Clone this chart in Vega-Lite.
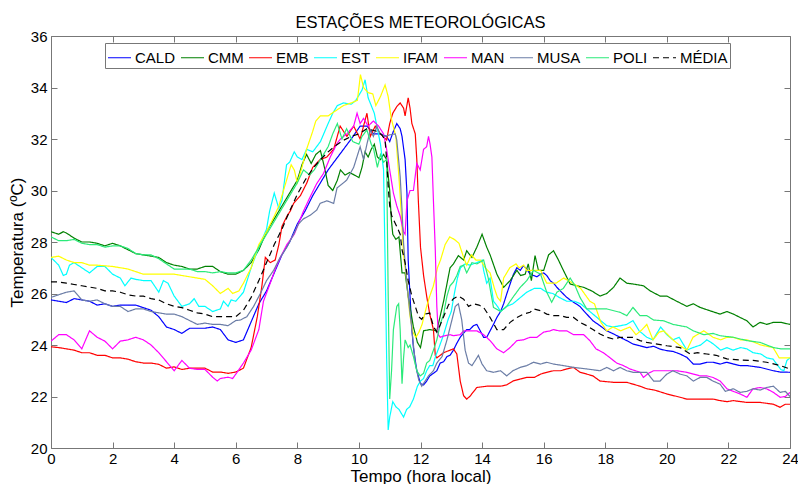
{
"$schema":"https://vega.github.io/schema/vega-lite/v6.json",
"autosize":{"type":"none"},
"padding":{"left":51,"top":36,"right":8,"bottom":36},
"width":739,"height":412,
"background":"white",
"config":{"view":{"stroke":null},"font":"Liberation Sans"},
"title":{"text":"ESTAÇÕES METEOROLÓGICAS","font":"Liberation Sans","fontSize":16.5,"fontWeight":"normal","color":"black","offset":-2,"anchor":"middle"},
"data":{"values":[
{"s":"CALD","t":0,"v":25.75},{"s":"CALD","t":0.25,"v":25.7},{"s":"CALD","t":0.5,"v":25.65},{"s":"CALD","t":0.75,"v":25.8},{"s":"CALD","t":1,"v":25.75},{"s":"CALD","t":1.25,"v":25.7},{"s":"CALD","t":1.5,"v":25.55},{"s":"CALD","t":1.75,"v":25.6},{"s":"CALD","t":2,"v":25.5},{"s":"CALD","t":2.25,"v":25.55},{"s":"CALD","t":2.5,"v":25.55},{"s":"CALD","t":2.75,"v":25.55},{"s":"CALD","t":3,"v":25.45},{"s":"CALD","t":3.25,"v":25.35},{"s":"CALD","t":3.5,"v":25.1},{"s":"CALD","t":3.75,"v":24.7},{"s":"CALD","t":4,"v":24.6},{"s":"CALD","t":4.25,"v":24.45},{"s":"CALD","t":4.5,"v":24.65},{"s":"CALD","t":4.75,"v":24.65},{"s":"CALD","t":5,"v":24.65},{"s":"CALD","t":5.25,"v":24.7},{"s":"CALD","t":5.5,"v":24.6},{"s":"CALD","t":5.75,"v":24.2},{"s":"CALD","t":6,"v":24.1},{"s":"CALD","t":6.25,"v":24.2},{"s":"CALD","t":6.5,"v":24.9},{"s":"CALD","t":6.75,"v":25.6},{"s":"CALD","t":7,"v":26.1},{"s":"CALD","t":7.25,"v":26.8},{"s":"CALD","t":7.5,"v":27.5},{"s":"CALD","t":7.75,"v":28.0},{"s":"CALD","t":8,"v":28.7},{"s":"CALD","t":8.25,"v":29.2},{"s":"CALD","t":8.5,"v":29.8},{"s":"CALD","t":8.75,"v":30.3},{"s":"CALD","t":9,"v":30.8},{"s":"CALD","t":9.25,"v":31.2},{"s":"CALD","t":9.5,"v":31.6},{"s":"CALD","t":9.75,"v":32.0},{"s":"CALD","t":10.04,"v":32.5},{"s":"CALD","t":10.26,"v":32.5},{"s":"CALD","t":10.48,"v":32.2},{"s":"CALD","t":10.7,"v":32.2},{"s":"CALD","t":10.9,"v":32.1},{"s":"CALD","t":11.0,"v":31.9},{"s":"CALD","t":11.12,"v":32.3},{"s":"CALD","t":11.23,"v":32.6},{"s":"CALD","t":11.34,"v":32.4},{"s":"CALD","t":11.4,"v":32.1},{"s":"CALD","t":11.5,"v":31.2},{"s":"CALD","t":11.56,"v":29.9},{"s":"CALD","t":11.6,"v":27.3},{"s":"CALD","t":11.66,"v":25.9},{"s":"CALD","t":11.72,"v":24.6},{"s":"CALD","t":11.77,"v":23.9},{"s":"CALD","t":11.88,"v":23.0},{"s":"CALD","t":12.0,"v":22.5},{"s":"CALD","t":12.1,"v":22.45},{"s":"CALD","t":12.2,"v":22.6},{"s":"CALD","t":12.3,"v":22.8},{"s":"CALD","t":12.42,"v":22.9},{"s":"CALD","t":12.53,"v":23.0},{"s":"CALD","t":12.64,"v":23.3},{"s":"CALD","t":12.75,"v":23.35},{"s":"CALD","t":12.86,"v":23.55},{"s":"CALD","t":12.96,"v":23.6},{"s":"CALD","t":13.07,"v":23.8},{"s":"CALD","t":13.18,"v":24.07},{"s":"CALD","t":13.29,"v":24.3},{"s":"CALD","t":13.4,"v":24.46},{"s":"CALD","t":13.5,"v":24.6},{"s":"CALD","t":13.6,"v":24.6},{"s":"CALD","t":13.72,"v":24.75},{"s":"CALD","t":13.83,"v":24.8},{"s":"CALD","t":13.94,"v":24.55},{"s":"CALD","t":14.05,"v":24.3},{"s":"CALD","t":14.15,"v":24.3},{"s":"CALD","t":14.26,"v":24.55},{"s":"CALD","t":14.37,"v":24.8},{"s":"CALD","t":14.48,"v":25.07},{"s":"CALD","t":14.6,"v":25.3},{"s":"CALD","t":14.7,"v":25.6},{"s":"CALD","t":14.8,"v":25.98},{"s":"CALD","t":14.91,"v":26.37},{"s":"CALD","t":15.02,"v":26.75},{"s":"CALD","t":15.13,"v":27.0},{"s":"CALD","t":15.24,"v":26.9},{"s":"CALD","t":15.34,"v":27.08},{"s":"CALD","t":15.45,"v":26.95},{"s":"CALD","t":15.56,"v":26.75},{"s":"CALD","t":15.67,"v":26.7},{"s":"CALD","t":15.78,"v":26.65},{"s":"CALD","t":15.9,"v":26.75},{"s":"CALD","t":16.0,"v":26.8},{"s":"CALD","t":16.1,"v":26.7},{"s":"CALD","t":16.21,"v":26.5},{"s":"CALD","t":16.32,"v":26.4},{"s":"CALD","t":16.43,"v":26.24},{"s":"CALD","t":16.54,"v":26.1},{"s":"CALD","t":16.64,"v":25.98},{"s":"CALD","t":16.75,"v":25.85},{"s":"CALD","t":16.86,"v":25.75},{"s":"CALD","t":16.97,"v":25.66},{"s":"CALD","t":17.18,"v":25.5},{"s":"CALD","t":17.3,"v":25.33},{"s":"CALD","t":17.4,"v":25.2},{"s":"CALD","t":17.6,"v":24.94},{"s":"CALD","t":17.83,"v":24.75},{"s":"CALD","t":18.05,"v":24.55},{"s":"CALD","t":18.27,"v":24.43},{"s":"CALD","t":18.48,"v":24.3},{"s":"CALD","t":18.7,"v":24.17},{"s":"CALD","t":18.9,"v":24.04},{"s":"CALD","t":19.13,"v":23.97},{"s":"CALD","t":19.35,"v":23.9},{"s":"CALD","t":19.57,"v":23.95},{"s":"CALD","t":19.78,"v":23.84},{"s":"CALD","t":20.0,"v":23.78},{"s":"CALD","t":20.2,"v":23.75},{"s":"CALD","t":20.43,"v":23.65},{"s":"CALD","t":20.65,"v":23.52},{"s":"CALD","t":20.86,"v":23.26},{"s":"CALD","t":21.08,"v":23.26},{"s":"CALD","t":21.3,"v":23.33},{"s":"CALD","t":21.5,"v":23.33},{"s":"CALD","t":21.73,"v":23.26},{"s":"CALD","t":21.95,"v":23.33},{"s":"CALD","t":22.16,"v":23.26},{"s":"CALD","t":22.38,"v":23.2},{"s":"CALD","t":22.6,"v":23.2},{"s":"CALD","t":23.03,"v":23.13},{"s":"CALD","t":23.46,"v":23.0},{"s":"CALD","t":23.68,"v":22.95},{"s":"CALD","t":24,"v":22.94},
{"s":"CMM","t":0,"v":28.4},{"s":"CMM","t":0.25,"v":28.3},{"s":"CMM","t":0.4,"v":28.4},{"s":"CMM","t":0.5,"v":28.35},{"s":"CMM","t":0.75,"v":28.15},{"s":"CMM","t":1,"v":28.0},{"s":"CMM","t":1.25,"v":28.0},{"s":"CMM","t":1.5,"v":27.95},{"s":"CMM","t":1.75,"v":27.85},{"s":"CMM","t":2,"v":27.95},{"s":"CMM","t":2.25,"v":27.85},{"s":"CMM","t":2.5,"v":27.7},{"s":"CMM","t":2.75,"v":27.55},{"s":"CMM","t":3,"v":27.5},{"s":"CMM","t":3.25,"v":27.45},{"s":"CMM","t":3.5,"v":27.4},{"s":"CMM","t":3.75,"v":27.2},{"s":"CMM","t":4,"v":27.1},{"s":"CMM","t":4.25,"v":27.05},{"s":"CMM","t":4.5,"v":26.95},{"s":"CMM","t":4.75,"v":26.95},{"s":"CMM","t":5,"v":27.05},{"s":"CMM","t":5.25,"v":27.05},{"s":"CMM","t":5.5,"v":26.85},{"s":"CMM","t":5.75,"v":26.75},{"s":"CMM","t":6,"v":26.75},{"s":"CMM","t":6.25,"v":26.9},{"s":"CMM","t":6.5,"v":27.2},{"s":"CMM","t":6.75,"v":27.7},{"s":"CMM","t":7,"v":28.4},{"s":"CMM","t":7.25,"v":28.9},{"s":"CMM","t":7.5,"v":29.4},{"s":"CMM","t":7.75,"v":29.9},{"s":"CMM","t":8,"v":30.4},{"s":"CMM","t":8.15,"v":31.0},{"s":"CMM","t":8.3,"v":31.4},{"s":"CMM","t":8.45,"v":31.05},{"s":"CMM","t":8.6,"v":31.4},{"s":"CMM","t":8.75,"v":31.55},{"s":"CMM","t":8.9,"v":30.8},{"s":"CMM","t":9.0,"v":30.2},{"s":"CMM","t":9.15,"v":30.0},{"s":"CMM","t":9.3,"v":30.4},{"s":"CMM","t":9.4,"v":30.8},{"s":"CMM","t":9.55,"v":30.6},{"s":"CMM","t":9.7,"v":30.7},{"s":"CMM","t":9.85,"v":30.6},{"s":"CMM","t":10.0,"v":30.5},{"s":"CMM","t":10.1,"v":30.9},{"s":"CMM","t":10.2,"v":31.5},{"s":"CMM","t":10.3,"v":31.3},{"s":"CMM","t":10.4,"v":31.6},{"s":"CMM","t":10.5,"v":31.8},{"s":"CMM","t":10.6,"v":31.3},{"s":"CMM","t":10.7,"v":31.2},{"s":"CMM","t":10.8,"v":31.4},{"s":"CMM","t":10.9,"v":31.2},{"s":"CMM","t":11.0,"v":30.0},{"s":"CMM","t":11.05,"v":28.9},{"s":"CMM","t":11.1,"v":28.3},{"s":"CMM","t":11.2,"v":28.1},{"s":"CMM","t":11.3,"v":28.2},{"s":"CMM","t":11.4,"v":26.8},{"s":"CMM","t":11.5,"v":26.8},{"s":"CMM","t":11.6,"v":25.9},{"s":"CMM","t":11.77,"v":24.7},{"s":"CMM","t":11.9,"v":24.1},{"s":"CMM","t":12.0,"v":23.9},{"s":"CMM","t":12.1,"v":24.55},{"s":"CMM","t":12.3,"v":24.6},{"s":"CMM","t":12.53,"v":24.55},{"s":"CMM","t":12.75,"v":25.7},{"s":"CMM","t":12.96,"v":27.0},{"s":"CMM","t":13.07,"v":27.15},{"s":"CMM","t":13.23,"v":27.47},{"s":"CMM","t":13.4,"v":27.3},{"s":"CMM","t":13.5,"v":27.66},{"s":"CMM","t":13.67,"v":27.4},{"s":"CMM","t":13.83,"v":27.8},{"s":"CMM","t":14.0,"v":28.3},{"s":"CMM","t":14.15,"v":27.8},{"s":"CMM","t":14.26,"v":27.5},{"s":"CMM","t":14.48,"v":26.75},{"s":"CMM","t":14.7,"v":26.24},{"s":"CMM","t":14.91,"v":26.5},{"s":"CMM","t":15.13,"v":26.9},{"s":"CMM","t":15.25,"v":26.7},{"s":"CMM","t":15.4,"v":26.75},{"s":"CMM","t":15.5,"v":27.15},{"s":"CMM","t":15.6,"v":26.5},{"s":"CMM","t":15.72,"v":27.47},{"s":"CMM","t":15.83,"v":26.9},{"s":"CMM","t":16.0,"v":26.9},{"s":"CMM","t":16.16,"v":27.5},{"s":"CMM","t":16.32,"v":27.66},{"s":"CMM","t":16.48,"v":27.3},{"s":"CMM","t":16.64,"v":26.9},{"s":"CMM","t":16.86,"v":26.37},{"s":"CMM","t":17.08,"v":26.3},{"s":"CMM","t":17.3,"v":26.24},{"s":"CMM","t":17.56,"v":26.1},{"s":"CMM","t":17.83,"v":25.9},{"s":"CMM","t":18.05,"v":26.0},{"s":"CMM","t":18.27,"v":26.24},{"s":"CMM","t":18.48,"v":26.6},{"s":"CMM","t":18.7,"v":26.4},{"s":"CMM","t":18.9,"v":26.37},{"s":"CMM","t":19.24,"v":26.3},{"s":"CMM","t":19.46,"v":26.1},{"s":"CMM","t":19.78,"v":25.9},{"s":"CMM","t":20.0,"v":25.9},{"s":"CMM","t":20.32,"v":25.7},{"s":"CMM","t":20.65,"v":25.5},{"s":"CMM","t":20.86,"v":25.6},{"s":"CMM","t":21.08,"v":25.46},{"s":"CMM","t":21.4,"v":25.33},{"s":"CMM","t":21.73,"v":25.2},{"s":"CMM","t":21.95,"v":25.3},{"s":"CMM","t":22.16,"v":25.2},{"s":"CMM","t":22.38,"v":25.07},{"s":"CMM","t":22.6,"v":24.94},{"s":"CMM","t":22.8,"v":24.7},{"s":"CMM","t":23.03,"v":24.88},{"s":"CMM","t":23.25,"v":24.8},{"s":"CMM","t":23.46,"v":24.88},{"s":"CMM","t":23.7,"v":24.88},{"s":"CMM","t":24,"v":24.8},
{"s":"EMB","t":0,"v":23.93},{"s":"EMB","t":0.25,"v":23.9},{"s":"EMB","t":0.5,"v":23.85},{"s":"EMB","t":0.75,"v":23.8},{"s":"EMB","t":1,"v":23.7},{"s":"EMB","t":1.25,"v":23.7},{"s":"EMB","t":1.5,"v":23.6},{"s":"EMB","t":1.75,"v":23.6},{"s":"EMB","t":2,"v":23.5},{"s":"EMB","t":2.25,"v":23.5},{"s":"EMB","t":2.5,"v":23.45},{"s":"EMB","t":2.75,"v":23.35},{"s":"EMB","t":3,"v":23.3},{"s":"EMB","t":3.25,"v":23.3},{"s":"EMB","t":3.5,"v":23.25},{"s":"EMB","t":3.75,"v":23.1},{"s":"EMB","t":4,"v":23.15},{"s":"EMB","t":4.25,"v":23.05},{"s":"EMB","t":4.5,"v":23.1},{"s":"EMB","t":4.75,"v":23.1},{"s":"EMB","t":5,"v":23.1},{"s":"EMB","t":5.25,"v":22.95},{"s":"EMB","t":5.5,"v":22.95},{"s":"EMB","t":5.75,"v":22.9},{"s":"EMB","t":6,"v":22.95},{"s":"EMB","t":6.25,"v":23.1},{"s":"EMB","t":6.5,"v":23.9},{"s":"EMB","t":6.7,"v":25.1},{"s":"EMB","t":6.85,"v":26.3},{"s":"EMB","t":6.96,"v":27.4},{"s":"EMB","t":7.12,"v":27.2},{"s":"EMB","t":7.28,"v":27.3},{"s":"EMB","t":7.4,"v":27.9},{"s":"EMB","t":7.5,"v":28.6},{"s":"EMB","t":7.66,"v":29.0},{"s":"EMB","t":7.77,"v":29.2},{"s":"EMB","t":7.88,"v":29.5},{"s":"EMB","t":8.1,"v":29.8},{"s":"EMB","t":8.31,"v":30.3},{"s":"EMB","t":8.5,"v":30.9},{"s":"EMB","t":8.74,"v":31.2},{"s":"EMB","t":8.96,"v":31.3},{"s":"EMB","t":9.18,"v":31.6},{"s":"EMB","t":9.39,"v":32.5},{"s":"EMB","t":9.61,"v":32.1},{"s":"EMB","t":9.83,"v":32.5},{"s":"EMB","t":10.04,"v":32.0},{"s":"EMB","t":10.15,"v":32.5},{"s":"EMB","t":10.26,"v":33.0},{"s":"EMB","t":10.37,"v":32.1},{"s":"EMB","t":10.53,"v":32.5},{"s":"EMB","t":10.7,"v":32.2},{"s":"EMB","t":10.9,"v":31.96},{"s":"EMB","t":11.0,"v":32.6},{"s":"EMB","t":11.1,"v":33.0},{"s":"EMB","t":11.23,"v":33.26},{"s":"EMB","t":11.34,"v":33.4},{"s":"EMB","t":11.45,"v":33.2},{"s":"EMB","t":11.5,"v":32.9},{"s":"EMB","t":11.6,"v":33.6},{"s":"EMB","t":11.66,"v":33.2},{"s":"EMB","t":11.72,"v":32.6},{"s":"EMB","t":11.83,"v":32.2},{"s":"EMB","t":11.88,"v":31.2},{"s":"EMB","t":11.93,"v":29.6},{"s":"EMB","t":12.0,"v":27.8},{"s":"EMB","t":12.1,"v":26.7},{"s":"EMB","t":12.2,"v":25.9},{"s":"EMB","t":12.3,"v":25.2},{"s":"EMB","t":12.42,"v":24.6},{"s":"EMB","t":12.48,"v":23.6},{"s":"EMB","t":12.53,"v":23.5},{"s":"EMB","t":12.75,"v":23.7},{"s":"EMB","t":12.96,"v":23.8},{"s":"EMB","t":13.07,"v":23.85},{"s":"EMB","t":13.18,"v":23.65},{"s":"EMB","t":13.29,"v":22.6},{"s":"EMB","t":13.4,"v":22.03},{"s":"EMB","t":13.5,"v":21.9},{"s":"EMB","t":13.6,"v":22.0},{"s":"EMB","t":13.83,"v":22.35},{"s":"EMB","t":14.15,"v":22.4},{"s":"EMB","t":14.6,"v":22.4},{"s":"EMB","t":14.8,"v":22.45},{"s":"EMB","t":15.0,"v":22.6},{"s":"EMB","t":15.24,"v":22.68},{"s":"EMB","t":15.45,"v":22.74},{"s":"EMB","t":15.7,"v":22.74},{"s":"EMB","t":15.9,"v":22.87},{"s":"EMB","t":16.1,"v":22.94},{"s":"EMB","t":16.32,"v":23.0},{"s":"EMB","t":16.55,"v":23.0},{"s":"EMB","t":16.75,"v":23.07},{"s":"EMB","t":16.97,"v":23.13},{"s":"EMB","t":17.18,"v":22.94},{"s":"EMB","t":17.4,"v":22.87},{"s":"EMB","t":17.6,"v":22.8},{"s":"EMB","t":17.83,"v":22.6},{"s":"EMB","t":18.27,"v":22.55},{"s":"EMB","t":18.7,"v":22.55},{"s":"EMB","t":19.13,"v":22.4},{"s":"EMB","t":19.35,"v":22.3},{"s":"EMB","t":19.6,"v":22.25},{"s":"EMB","t":20.0,"v":22.1},{"s":"EMB","t":20.43,"v":21.97},{"s":"EMB","t":20.65,"v":21.9},{"s":"EMB","t":21.1,"v":21.9},{"s":"EMB","t":21.5,"v":21.9},{"s":"EMB","t":21.73,"v":21.84},{"s":"EMB","t":21.95,"v":21.8},{"s":"EMB","t":22.16,"v":21.84},{"s":"EMB","t":22.6,"v":21.77},{"s":"EMB","t":23.03,"v":21.77},{"s":"EMB","t":23.46,"v":21.7},{"s":"EMB","t":23.68,"v":21.58},{"s":"EMB","t":23.85,"v":21.7},{"s":"EMB","t":24,"v":21.7},
{"s":"EST","t":0,"v":27.4},{"s":"EST","t":0.25,"v":27.1},{"s":"EST","t":0.4,"v":26.7},{"s":"EST","t":0.5,"v":26.75},{"s":"EST","t":0.6,"v":27.1},{"s":"EST","t":0.75,"v":27.2},{"s":"EST","t":1,"v":27.0},{"s":"EST","t":1.25,"v":26.8},{"s":"EST","t":1.5,"v":27.05},{"s":"EST","t":1.75,"v":27.05},{"s":"EST","t":2,"v":26.75},{"s":"EST","t":2.25,"v":26.6},{"s":"EST","t":2.4,"v":26.3},{"s":"EST","t":2.6,"v":26.6},{"s":"EST","t":2.75,"v":26.55},{"s":"EST","t":3,"v":26.5},{"s":"EST","t":3.25,"v":26.5},{"s":"EST","t":3.5,"v":26.05},{"s":"EST","t":3.65,"v":26.5},{"s":"EST","t":3.8,"v":26.4},{"s":"EST","t":4,"v":25.9},{"s":"EST","t":4.25,"v":25.5},{"s":"EST","t":4.5,"v":25.6},{"s":"EST","t":4.65,"v":25.8},{"s":"EST","t":4.8,"v":25.5},{"s":"EST","t":5,"v":25.5},{"s":"EST","t":5.25,"v":25.3},{"s":"EST","t":5.5,"v":25.4},{"s":"EST","t":5.6,"v":25.7},{"s":"EST","t":5.75,"v":25.5},{"s":"EST","t":5.85,"v":25.75},{"s":"EST","t":6,"v":25.7},{"s":"EST","t":6.25,"v":26.05},{"s":"EST","t":6.5,"v":27.0},{"s":"EST","t":6.75,"v":27.8},{"s":"EST","t":7,"v":28.5},{"s":"EST","t":7.1,"v":29.2},{"s":"EST","t":7.25,"v":29.9},{"s":"EST","t":7.4,"v":29.3},{"s":"EST","t":7.5,"v":29.6},{"s":"EST","t":7.65,"v":31.0},{"s":"EST","t":7.75,"v":31.1},{"s":"EST","t":7.9,"v":31.5},{"s":"EST","t":8,"v":31.3},{"s":"EST","t":8.15,"v":31.2},{"s":"EST","t":8.3,"v":31.6},{"s":"EST","t":8.5,"v":31.5},{"s":"EST","t":8.75,"v":31.9},{"s":"EST","t":9,"v":32.6},{"s":"EST","t":9.15,"v":33.0},{"s":"EST","t":9.3,"v":33.3},{"s":"EST","t":9.5,"v":33.4},{"s":"EST","t":9.75,"v":33.35},{"s":"EST","t":9.9,"v":33.5},{"s":"EST","t":10.1,"v":33.9},{"s":"EST","t":10.2,"v":34.3},{"s":"EST","t":10.3,"v":33.6},{"s":"EST","t":10.4,"v":33.3},{"s":"EST","t":10.5,"v":33.0},{"s":"EST","t":10.6,"v":32.4},{"s":"EST","t":10.7,"v":31.8},{"s":"EST","t":10.8,"v":30.8},{"s":"EST","t":10.85,"v":27.3},{"s":"EST","t":10.9,"v":23.5},{"s":"EST","t":10.95,"v":20.7},{"s":"EST","t":11.0,"v":21.2},{"s":"EST","t":11.1,"v":21.8},{"s":"EST","t":11.2,"v":21.6},{"s":"EST","t":11.3,"v":21.5},{"s":"EST","t":11.45,"v":21.2},{"s":"EST","t":11.55,"v":21.5},{"s":"EST","t":11.65,"v":21.6},{"s":"EST","t":11.77,"v":21.9},{"s":"EST","t":11.9,"v":22.4},{"s":"EST","t":12.0,"v":22.6},{"s":"EST","t":12.1,"v":22.7},{"s":"EST","t":12.2,"v":23.0},{"s":"EST","t":12.3,"v":23.2},{"s":"EST","t":12.4,"v":23.2},{"s":"EST","t":12.5,"v":23.6},{"s":"EST","t":12.6,"v":23.9},{"s":"EST","t":12.75,"v":24.4},{"s":"EST","t":12.9,"v":25.0},{"s":"EST","t":13.0,"v":25.3},{"s":"EST","t":13.1,"v":26.0},{"s":"EST","t":13.2,"v":26.6},{"s":"EST","t":13.3,"v":27.0},{"s":"EST","t":13.45,"v":27.15},{"s":"EST","t":13.6,"v":27.1},{"s":"EST","t":13.83,"v":27.2},{"s":"EST","t":14.0,"v":27.3},{"s":"EST","t":14.05,"v":26.9},{"s":"EST","t":14.15,"v":26.4},{"s":"EST","t":14.26,"v":26.6},{"s":"EST","t":14.37,"v":25.7},{"s":"EST","t":14.5,"v":25.5},{"s":"EST","t":14.6,"v":25.3},{"s":"EST","t":14.8,"v":25.5},{"s":"EST","t":15.0,"v":25.6},{"s":"EST","t":15.25,"v":25.85},{"s":"EST","t":15.45,"v":26.05},{"s":"EST","t":15.7,"v":26.2},{"s":"EST","t":15.9,"v":26.2},{"s":"EST","t":16.1,"v":26.05},{"s":"EST","t":16.3,"v":26.0},{"s":"EST","t":16.5,"v":25.85},{"s":"EST","t":16.75,"v":25.7},{"s":"EST","t":17.0,"v":25.7},{"s":"EST","t":17.2,"v":25.6},{"s":"EST","t":17.4,"v":25.4},{"s":"EST","t":17.6,"v":25.2},{"s":"EST","t":17.85,"v":24.95},{"s":"EST","t":18.05,"v":24.75},{"s":"EST","t":18.25,"v":24.7},{"s":"EST","t":18.5,"v":24.75},{"s":"EST","t":18.7,"v":24.8},{"s":"EST","t":18.9,"v":24.95},{"s":"EST","t":19.1,"v":24.55},{"s":"EST","t":19.35,"v":24.3},{"s":"EST","t":19.55,"v":24.2},{"s":"EST","t":19.8,"v":24.7},{"s":"EST","t":20.0,"v":24.4},{"s":"EST","t":20.2,"v":24.2},{"s":"EST","t":20.4,"v":24.3},{"s":"EST","t":20.65,"v":23.8},{"s":"EST","t":20.85,"v":23.9},{"s":"EST","t":21.1,"v":24.0},{"s":"EST","t":21.3,"v":24.2},{"s":"EST","t":21.5,"v":24.05},{"s":"EST","t":21.75,"v":23.8},{"s":"EST","t":21.95,"v":23.9},{"s":"EST","t":22.15,"v":23.8},{"s":"EST","t":22.4,"v":23.9},{"s":"EST","t":22.6,"v":23.85},{"s":"EST","t":22.8,"v":23.7},{"s":"EST","t":23.05,"v":23.65},{"s":"EST","t":23.25,"v":23.5},{"s":"EST","t":23.45,"v":23.45},{"s":"EST","t":23.7,"v":23.05},{"s":"EST","t":23.8,"v":23.0},{"s":"EST","t":23.9,"v":23.4},{"s":"EST","t":24,"v":23.5},
{"s":"IFAM","t":0,"v":27.4},{"s":"IFAM","t":0.25,"v":27.45},{"s":"IFAM","t":0.5,"v":27.3},{"s":"IFAM","t":0.75,"v":27.2},{"s":"IFAM","t":1,"v":27.2},{"s":"IFAM","t":1.25,"v":27.1},{"s":"IFAM","t":1.5,"v":27.1},{"s":"IFAM","t":2,"v":27.05},{"s":"IFAM","t":2.25,"v":27.0},{"s":"IFAM","t":2.5,"v":26.95},{"s":"IFAM","t":2.75,"v":26.85},{"s":"IFAM","t":3,"v":26.75},{"s":"IFAM","t":3.5,"v":26.75},{"s":"IFAM","t":4,"v":26.75},{"s":"IFAM","t":4.25,"v":26.7},{"s":"IFAM","t":4.5,"v":26.65},{"s":"IFAM","t":4.75,"v":26.6},{"s":"IFAM","t":5,"v":26.55},{"s":"IFAM","t":5.25,"v":26.3},{"s":"IFAM","t":5.5,"v":26.0},{"s":"IFAM","t":5.75,"v":26.2},{"s":"IFAM","t":5.9,"v":26.0},{"s":"IFAM","t":6.1,"v":26.1},{"s":"IFAM","t":6.25,"v":26.4},{"s":"IFAM","t":6.5,"v":27.0},{"s":"IFAM","t":6.75,"v":27.9},{"s":"IFAM","t":7,"v":28.4},{"s":"IFAM","t":7.25,"v":29.0},{"s":"IFAM","t":7.4,"v":29.4},{"s":"IFAM","t":7.6,"v":30.2},{"s":"IFAM","t":7.8,"v":31.0},{"s":"IFAM","t":7.9,"v":30.8},{"s":"IFAM","t":8.0,"v":30.3},{"s":"IFAM","t":8.15,"v":30.9},{"s":"IFAM","t":8.3,"v":31.6},{"s":"IFAM","t":8.5,"v":32.3},{"s":"IFAM","t":8.6,"v":32.7},{"s":"IFAM","t":8.75,"v":32.9},{"s":"IFAM","t":9.0,"v":32.9},{"s":"IFAM","t":9.25,"v":33.1},{"s":"IFAM","t":9.5,"v":33.3},{"s":"IFAM","t":9.75,"v":33.4},{"s":"IFAM","t":9.95,"v":33.5},{"s":"IFAM","t":10.05,"v":34.5},{"s":"IFAM","t":10.15,"v":34.0},{"s":"IFAM","t":10.3,"v":33.8},{"s":"IFAM","t":10.45,"v":33.75},{"s":"IFAM","t":10.55,"v":33.3},{"s":"IFAM","t":10.7,"v":33.65},{"s":"IFAM","t":10.85,"v":34.1},{"s":"IFAM","t":10.95,"v":33.65},{"s":"IFAM","t":11.05,"v":32.8},{"s":"IFAM","t":11.2,"v":32.1},{"s":"IFAM","t":11.3,"v":30.5},{"s":"IFAM","t":11.35,"v":29.6},{"s":"IFAM","t":11.45,"v":27.5},{"s":"IFAM","t":11.55,"v":26.5},{"s":"IFAM","t":11.65,"v":25.2},{"s":"IFAM","t":11.75,"v":24.5},{"s":"IFAM","t":11.85,"v":24.3},{"s":"IFAM","t":11.95,"v":24.5},{"s":"IFAM","t":12.05,"v":24.8},{"s":"IFAM","t":12.2,"v":25.5},{"s":"IFAM","t":12.3,"v":25.9},{"s":"IFAM","t":12.42,"v":26.3},{"s":"IFAM","t":12.55,"v":27.0},{"s":"IFAM","t":12.65,"v":27.3},{"s":"IFAM","t":12.8,"v":27.9},{"s":"IFAM","t":12.95,"v":28.2},{"s":"IFAM","t":13.1,"v":28.1},{"s":"IFAM","t":13.25,"v":27.95},{"s":"IFAM","t":13.4,"v":27.4},{"s":"IFAM","t":13.5,"v":27.1},{"s":"IFAM","t":13.65,"v":27.5},{"s":"IFAM","t":13.8,"v":27.3},{"s":"IFAM","t":13.95,"v":27.3},{"s":"IFAM","t":14.1,"v":27.0},{"s":"IFAM","t":14.26,"v":26.8},{"s":"IFAM","t":14.4,"v":26.2},{"s":"IFAM","t":14.5,"v":25.85},{"s":"IFAM","t":14.6,"v":25.7},{"s":"IFAM","t":14.7,"v":26.6},{"s":"IFAM","t":14.9,"v":27.0},{"s":"IFAM","t":15.1,"v":27.15},{"s":"IFAM","t":15.2,"v":27.0},{"s":"IFAM","t":15.35,"v":27.1},{"s":"IFAM","t":15.45,"v":26.9},{"s":"IFAM","t":15.65,"v":26.9},{"s":"IFAM","t":15.9,"v":26.9},{"s":"IFAM","t":16.1,"v":26.4},{"s":"IFAM","t":16.4,"v":26.4},{"s":"IFAM","t":16.65,"v":26.6},{"s":"IFAM","t":16.95,"v":26.4},{"s":"IFAM","t":17.2,"v":26.2},{"s":"IFAM","t":17.5,"v":25.7},{"s":"IFAM","t":17.65,"v":25.6},{"s":"IFAM","t":17.85,"v":24.9},{"s":"IFAM","t":18.05,"v":24.55},{"s":"IFAM","t":18.25,"v":24.7},{"s":"IFAM","t":18.5,"v":24.55},{"s":"IFAM","t":18.8,"v":24.7},{"s":"IFAM","t":19.0,"v":24.4},{"s":"IFAM","t":19.2,"v":24.6},{"s":"IFAM","t":19.35,"v":24.8},{"s":"IFAM","t":19.55,"v":24.2},{"s":"IFAM","t":19.75,"v":24.5},{"s":"IFAM","t":19.9,"v":24.55},{"s":"IFAM","t":20.2,"v":24.2},{"s":"IFAM","t":20.4,"v":24.0},{"s":"IFAM","t":20.65,"v":23.8},{"s":"IFAM","t":20.85,"v":24.3},{"s":"IFAM","t":21.2,"v":24.55},{"s":"IFAM","t":21.5,"v":24.3},{"s":"IFAM","t":21.75,"v":24.2},{"s":"IFAM","t":21.95,"v":24.3},{"s":"IFAM","t":22.15,"v":24.3},{"s":"IFAM","t":22.4,"v":24.2},{"s":"IFAM","t":22.6,"v":24.2},{"s":"IFAM","t":22.85,"v":24.1},{"s":"IFAM","t":23.05,"v":24.0},{"s":"IFAM","t":23.25,"v":23.95},{"s":"IFAM","t":23.45,"v":23.9},{"s":"IFAM","t":23.65,"v":23.5},{"s":"IFAM","t":24,"v":23.5},
{"s":"MAN","t":0,"v":24.15},{"s":"MAN","t":0.25,"v":24.4},{"s":"MAN","t":0.5,"v":24.4},{"s":"MAN","t":0.75,"v":24.2},{"s":"MAN","t":1,"v":23.85},{"s":"MAN","t":1.25,"v":24.55},{"s":"MAN","t":1.5,"v":24.3},{"s":"MAN","t":1.75,"v":24.15},{"s":"MAN","t":2,"v":23.85},{"s":"MAN","t":2.25,"v":24.15},{"s":"MAN","t":2.5,"v":24.2},{"s":"MAN","t":2.75,"v":24.3},{"s":"MAN","t":3,"v":24.2},{"s":"MAN","t":3.25,"v":24.0},{"s":"MAN","t":3.5,"v":23.7},{"s":"MAN","t":3.75,"v":23.35},{"s":"MAN","t":4,"v":23.0},{"s":"MAN","t":4.25,"v":23.4},{"s":"MAN","t":4.5,"v":23.1},{"s":"MAN","t":4.75,"v":23.05},{"s":"MAN","t":5,"v":23.05},{"s":"MAN","t":5.25,"v":22.75},{"s":"MAN","t":5.4,"v":22.6},{"s":"MAN","t":5.5,"v":22.7},{"s":"MAN","t":5.75,"v":22.75},{"s":"MAN","t":5.9,"v":22.7},{"s":"MAN","t":6.05,"v":22.95},{"s":"MAN","t":6.25,"v":23.3},{"s":"MAN","t":6.5,"v":23.8},{"s":"MAN","t":6.75,"v":24.6},{"s":"MAN","t":6.9,"v":25.7},{"s":"MAN","t":7.12,"v":26.4},{"s":"MAN","t":7.3,"v":27.0},{"s":"MAN","t":7.45,"v":27.4},{"s":"MAN","t":7.66,"v":27.9},{"s":"MAN","t":7.9,"v":28.3},{"s":"MAN","t":8.0,"v":28.6},{"s":"MAN","t":8.2,"v":29.2},{"s":"MAN","t":8.42,"v":29.76},{"s":"MAN","t":8.63,"v":30.27},{"s":"MAN","t":8.85,"v":30.66},{"s":"MAN","t":9.07,"v":31.3},{"s":"MAN","t":9.29,"v":31.83},{"s":"MAN","t":9.4,"v":32.0},{"s":"MAN","t":9.61,"v":32.2},{"s":"MAN","t":9.83,"v":32.5},{"s":"MAN","t":9.94,"v":33.0},{"s":"MAN","t":10.04,"v":32.6},{"s":"MAN","t":10.15,"v":32.8},{"s":"MAN","t":10.3,"v":32.5},{"s":"MAN","t":10.47,"v":32.7},{"s":"MAN","t":10.64,"v":32.5},{"s":"MAN","t":10.8,"v":32.2},{"s":"MAN","t":10.9,"v":31.6},{"s":"MAN","t":11.0,"v":30.8},{"s":"MAN","t":11.12,"v":29.9},{"s":"MAN","t":11.23,"v":29.4},{"s":"MAN","t":11.34,"v":29.0},{"s":"MAN","t":11.45,"v":28.4},{"s":"MAN","t":11.5,"v":28.3},{"s":"MAN","t":11.56,"v":29.6},{"s":"MAN","t":11.66,"v":30.0},{"s":"MAN","t":11.77,"v":30.0},{"s":"MAN","t":11.88,"v":31.05},{"s":"MAN","t":11.99,"v":30.8},{"s":"MAN","t":12.1,"v":31.6},{"s":"MAN","t":12.2,"v":31.7},{"s":"MAN","t":12.26,"v":32.1},{"s":"MAN","t":12.31,"v":31.8},{"s":"MAN","t":12.37,"v":31.3},{"s":"MAN","t":12.42,"v":29.6},{"s":"MAN","t":12.48,"v":27.7},{"s":"MAN","t":12.53,"v":25.5},{"s":"MAN","t":12.58,"v":24.4},{"s":"MAN","t":12.64,"v":24.3},{"s":"MAN","t":12.75,"v":24.35},{"s":"MAN","t":12.96,"v":24.4},{"s":"MAN","t":13.07,"v":24.36},{"s":"MAN","t":13.29,"v":24.4},{"s":"MAN","t":13.4,"v":24.55},{"s":"MAN","t":13.6,"v":24.55},{"s":"MAN","t":13.83,"v":24.55},{"s":"MAN","t":14.05,"v":24.4},{"s":"MAN","t":14.26,"v":24.17},{"s":"MAN","t":14.48,"v":23.85},{"s":"MAN","t":14.7,"v":23.7},{"s":"MAN","t":14.91,"v":23.9},{"s":"MAN","t":15.13,"v":24.17},{"s":"MAN","t":15.34,"v":24.2},{"s":"MAN","t":15.56,"v":24.3},{"s":"MAN","t":15.78,"v":24.3},{"s":"MAN","t":16.0,"v":24.5},{"s":"MAN","t":16.21,"v":24.55},{"s":"MAN","t":16.32,"v":24.6},{"s":"MAN","t":16.5,"v":24.55},{"s":"MAN","t":16.75,"v":24.55},{"s":"MAN","t":16.97,"v":24.4},{"s":"MAN","t":17.3,"v":24.4},{"s":"MAN","t":17.5,"v":24.17},{"s":"MAN","t":17.7,"v":23.85},{"s":"MAN","t":17.94,"v":23.7},{"s":"MAN","t":18.16,"v":23.5},{"s":"MAN","t":18.37,"v":23.3},{"s":"MAN","t":18.59,"v":23.2},{"s":"MAN","t":18.8,"v":23.07},{"s":"MAN","t":19.13,"v":22.94},{"s":"MAN","t":19.24,"v":22.74},{"s":"MAN","t":19.4,"v":22.9},{"s":"MAN","t":19.57,"v":23.0},{"s":"MAN","t":20.0,"v":23.0},{"s":"MAN","t":20.32,"v":23.0},{"s":"MAN","t":20.65,"v":22.94},{"s":"MAN","t":20.86,"v":22.87},{"s":"MAN","t":21.08,"v":22.8},{"s":"MAN","t":21.3,"v":22.8},{"s":"MAN","t":21.5,"v":22.74},{"s":"MAN","t":21.73,"v":22.6},{"s":"MAN","t":21.95,"v":22.3},{"s":"MAN","t":22.16,"v":22.2},{"s":"MAN","t":22.38,"v":22.1},{"s":"MAN","t":22.6,"v":21.97},{"s":"MAN","t":22.8,"v":22.3},{"s":"MAN","t":23.03,"v":22.35},{"s":"MAN","t":23.24,"v":22.3},{"s":"MAN","t":23.46,"v":22.16},{"s":"MAN","t":23.68,"v":21.97},{"s":"MAN","t":23.85,"v":22.0},{"s":"MAN","t":24,"v":22.16},
{"s":"MUSA","t":0,"v":25.85},{"s":"MUSA","t":0.25,"v":25.95},{"s":"MUSA","t":0.5,"v":26.05},{"s":"MUSA","t":0.75,"v":26.1},{"s":"MUSA","t":1,"v":25.75},{"s":"MUSA","t":1.25,"v":25.7},{"s":"MUSA","t":1.5,"v":25.75},{"s":"MUSA","t":1.75,"v":25.6},{"s":"MUSA","t":2,"v":25.5},{"s":"MUSA","t":2.25,"v":25.5},{"s":"MUSA","t":2.5,"v":25.3},{"s":"MUSA","t":2.75,"v":25.4},{"s":"MUSA","t":3,"v":25.4},{"s":"MUSA","t":3.25,"v":25.3},{"s":"MUSA","t":3.5,"v":25.25},{"s":"MUSA","t":3.75,"v":25.2},{"s":"MUSA","t":4,"v":25.2},{"s":"MUSA","t":4.25,"v":25.1},{"s":"MUSA","t":4.5,"v":24.95},{"s":"MUSA","t":4.75,"v":24.8},{"s":"MUSA","t":5,"v":24.85},{"s":"MUSA","t":5.25,"v":24.8},{"s":"MUSA","t":5.5,"v":24.8},{"s":"MUSA","t":5.75,"v":24.75},{"s":"MUSA","t":6,"v":24.95},{"s":"MUSA","t":6.15,"v":24.97},{"s":"MUSA","t":6.36,"v":25.1},{"s":"MUSA","t":6.58,"v":25.5},{"s":"MUSA","t":6.8,"v":26.0},{"s":"MUSA","t":7.0,"v":26.5},{"s":"MUSA","t":7.23,"v":26.9},{"s":"MUSA","t":7.44,"v":27.4},{"s":"MUSA","t":7.66,"v":27.8},{"s":"MUSA","t":7.88,"v":28.3},{"s":"MUSA","t":8.04,"v":28.7},{"s":"MUSA","t":8.2,"v":28.9},{"s":"MUSA","t":8.42,"v":29.04},{"s":"MUSA","t":8.63,"v":29.24},{"s":"MUSA","t":8.74,"v":29.5},{"s":"MUSA","t":8.96,"v":29.6},{"s":"MUSA","t":9.18,"v":29.5},{"s":"MUSA","t":9.29,"v":30.1},{"s":"MUSA","t":9.5,"v":30.3},{"s":"MUSA","t":9.6,"v":30.4},{"s":"MUSA","t":9.83,"v":30.9},{"s":"MUSA","t":10.04,"v":31.7},{"s":"MUSA","t":10.15,"v":31.2},{"s":"MUSA","t":10.26,"v":31.8},{"s":"MUSA","t":10.37,"v":32.35},{"s":"MUSA","t":10.47,"v":32.1},{"s":"MUSA","t":10.58,"v":32.5},{"s":"MUSA","t":10.69,"v":32.2},{"s":"MUSA","t":10.85,"v":32.1},{"s":"MUSA","t":11.0,"v":32.16},{"s":"MUSA","t":11.18,"v":32.2},{"s":"MUSA","t":11.23,"v":31.96},{"s":"MUSA","t":11.34,"v":30.54},{"s":"MUSA","t":11.4,"v":29.25},{"s":"MUSA","t":11.45,"v":27.95},{"s":"MUSA","t":11.5,"v":27.2},{"s":"MUSA","t":11.6,"v":25.9},{"s":"MUSA","t":11.72,"v":24.6},{"s":"MUSA","t":11.83,"v":23.3},{"s":"MUSA","t":11.94,"v":22.65},{"s":"MUSA","t":12.04,"v":22.4},{"s":"MUSA","t":12.15,"v":22.6},{"s":"MUSA","t":12.26,"v":22.8},{"s":"MUSA","t":12.42,"v":23.0},{"s":"MUSA","t":12.53,"v":23.3},{"s":"MUSA","t":12.7,"v":23.55},{"s":"MUSA","t":12.86,"v":24.2},{"s":"MUSA","t":13.02,"v":24.97},{"s":"MUSA","t":13.13,"v":25.5},{"s":"MUSA","t":13.23,"v":25.6},{"s":"MUSA","t":13.34,"v":24.97},{"s":"MUSA","t":13.45,"v":23.8},{"s":"MUSA","t":13.56,"v":23.3},{"s":"MUSA","t":13.67,"v":23.2},{"s":"MUSA","t":13.78,"v":23.4},{"s":"MUSA","t":13.88,"v":23.6},{"s":"MUSA","t":14.0,"v":23.26},{"s":"MUSA","t":14.15,"v":23.0},{"s":"MUSA","t":14.37,"v":22.94},{"s":"MUSA","t":14.6,"v":23.0},{"s":"MUSA","t":14.8,"v":22.8},{"s":"MUSA","t":15.0,"v":23.0},{"s":"MUSA","t":15.24,"v":23.13},{"s":"MUSA","t":15.45,"v":23.2},{"s":"MUSA","t":15.67,"v":23.33},{"s":"MUSA","t":15.9,"v":23.26},{"s":"MUSA","t":16.1,"v":23.33},{"s":"MUSA","t":16.32,"v":23.26},{"s":"MUSA","t":16.64,"v":23.2},{"s":"MUSA","t":16.97,"v":23.13},{"s":"MUSA","t":17.4,"v":23.07},{"s":"MUSA","t":17.83,"v":23.0},{"s":"MUSA","t":18.05,"v":23.13},{"s":"MUSA","t":18.27,"v":23.0},{"s":"MUSA","t":18.48,"v":23.13},{"s":"MUSA","t":18.7,"v":23.0},{"s":"MUSA","t":18.9,"v":22.94},{"s":"MUSA","t":19.35,"v":22.94},{"s":"MUSA","t":19.57,"v":22.6},{"s":"MUSA","t":19.78,"v":22.6},{"s":"MUSA","t":20.0,"v":22.87},{"s":"MUSA","t":20.2,"v":23.0},{"s":"MUSA","t":20.43,"v":22.87},{"s":"MUSA","t":20.65,"v":22.8},{"s":"MUSA","t":20.86,"v":22.6},{"s":"MUSA","t":21.08,"v":22.74},{"s":"MUSA","t":21.3,"v":22.74},{"s":"MUSA","t":21.5,"v":22.6},{"s":"MUSA","t":21.73,"v":22.48},{"s":"MUSA","t":21.9,"v":22.2},{"s":"MUSA","t":22.16,"v":22.3},{"s":"MUSA","t":22.38,"v":22.16},{"s":"MUSA","t":22.6,"v":22.2},{"s":"MUSA","t":22.8,"v":22.3},{"s":"MUSA","t":23.03,"v":22.25},{"s":"MUSA","t":23.24,"v":22.35},{"s":"MUSA","t":23.46,"v":22.4},{"s":"MUSA","t":23.68,"v":22.16},{"s":"MUSA","t":23.85,"v":22.2},{"s":"MUSA","t":24,"v":22.0},
{"s":"POLI","t":0,"v":28.2},{"s":"POLI","t":0.25,"v":28.05},{"s":"POLI","t":0.5,"v":28.05},{"s":"POLI","t":0.75,"v":28.1},{"s":"POLI","t":1,"v":27.95},{"s":"POLI","t":1.25,"v":27.9},{"s":"POLI","t":1.5,"v":27.9},{"s":"POLI","t":1.75,"v":27.8},{"s":"POLI","t":2,"v":27.85},{"s":"POLI","t":2.25,"v":27.85},{"s":"POLI","t":2.5,"v":27.75},{"s":"POLI","t":2.75,"v":27.55},{"s":"POLI","t":3,"v":27.5},{"s":"POLI","t":3.25,"v":27.5},{"s":"POLI","t":3.5,"v":27.35},{"s":"POLI","t":3.75,"v":27.15},{"s":"POLI","t":4,"v":26.95},{"s":"POLI","t":4.25,"v":26.95},{"s":"POLI","t":4.5,"v":26.95},{"s":"POLI","t":4.75,"v":26.85},{"s":"POLI","t":5,"v":26.85},{"s":"POLI","t":5.25,"v":26.8},{"s":"POLI","t":5.5,"v":26.85},{"s":"POLI","t":5.75,"v":26.8},{"s":"POLI","t":6,"v":26.8},{"s":"POLI","t":6.25,"v":26.9},{"s":"POLI","t":6.5,"v":27.3},{"s":"POLI","t":6.75,"v":27.8},{"s":"POLI","t":7,"v":28.3},{"s":"POLI","t":7.25,"v":28.8},{"s":"POLI","t":7.5,"v":29.3},{"s":"POLI","t":7.75,"v":29.8},{"s":"POLI","t":8,"v":30.3},{"s":"POLI","t":8.2,"v":30.8},{"s":"POLI","t":8.4,"v":30.6},{"s":"POLI","t":8.55,"v":30.8},{"s":"POLI","t":8.75,"v":31.2},{"s":"POLI","t":9,"v":31.7},{"s":"POLI","t":9.15,"v":32.2},{"s":"POLI","t":9.3,"v":32.6},{"s":"POLI","t":9.45,"v":32.0},{"s":"POLI","t":9.6,"v":32.4},{"s":"POLI","t":9.8,"v":31.9},{"s":"POLI","t":10.0,"v":31.8},{"s":"POLI","t":10.1,"v":32.1},{"s":"POLI","t":10.26,"v":32.35},{"s":"POLI","t":10.4,"v":31.8},{"s":"POLI","t":10.48,"v":31.6},{"s":"POLI","t":10.6,"v":30.9},{"s":"POLI","t":10.7,"v":31.4},{"s":"POLI","t":10.8,"v":31.1},{"s":"POLI","t":10.9,"v":31.2},{"s":"POLI","t":10.95,"v":26.0},{"s":"POLI","t":11.0,"v":21.9},{"s":"POLI","t":11.06,"v":23.0},{"s":"POLI","t":11.12,"v":24.6},{"s":"POLI","t":11.23,"v":25.5},{"s":"POLI","t":11.29,"v":25.6},{"s":"POLI","t":11.34,"v":24.6},{"s":"POLI","t":11.4,"v":22.5},{"s":"POLI","t":11.45,"v":23.5},{"s":"POLI","t":11.5,"v":24.2},{"s":"POLI","t":11.6,"v":23.9},{"s":"POLI","t":11.66,"v":24.0},{"s":"POLI","t":11.77,"v":23.55},{"s":"POLI","t":11.88,"v":23.0},{"s":"POLI","t":11.99,"v":22.8},{"s":"POLI","t":12.1,"v":22.9},{"s":"POLI","t":12.2,"v":23.3},{"s":"POLI","t":12.3,"v":23.4},{"s":"POLI","t":12.42,"v":23.8},{"s":"POLI","t":12.53,"v":24.2},{"s":"POLI","t":12.64,"v":24.8},{"s":"POLI","t":12.75,"v":25.2},{"s":"POLI","t":12.86,"v":25.9},{"s":"POLI","t":12.96,"v":26.3},{"s":"POLI","t":13.07,"v":26.45},{"s":"POLI","t":13.18,"v":26.7},{"s":"POLI","t":13.29,"v":27.05},{"s":"POLI","t":13.4,"v":27.1},{"s":"POLI","t":13.5,"v":26.8},{"s":"POLI","t":13.67,"v":27.2},{"s":"POLI","t":13.83,"v":27.15},{"s":"POLI","t":14.05,"v":27.3},{"s":"POLI","t":14.2,"v":26.6},{"s":"POLI","t":14.37,"v":25.46},{"s":"POLI","t":14.6,"v":25.3},{"s":"POLI","t":14.8,"v":25.5},{"s":"POLI","t":15.0,"v":25.85},{"s":"POLI","t":15.24,"v":26.24},{"s":"POLI","t":15.45,"v":26.5},{"s":"POLI","t":15.67,"v":26.9},{"s":"POLI","t":15.9,"v":26.75},{"s":"POLI","t":16.1,"v":26.05},{"s":"POLI","t":16.26,"v":25.66},{"s":"POLI","t":16.43,"v":26.05},{"s":"POLI","t":16.64,"v":26.2},{"s":"POLI","t":16.86,"v":26.6},{"s":"POLI","t":17.02,"v":26.3},{"s":"POLI","t":17.18,"v":25.85},{"s":"POLI","t":17.4,"v":25.4},{"s":"POLI","t":17.6,"v":25.4},{"s":"POLI","t":18.05,"v":25.4},{"s":"POLI","t":18.48,"v":25.27},{"s":"POLI","t":18.7,"v":25.14},{"s":"POLI","t":18.9,"v":25.46},{"s":"POLI","t":19.13,"v":25.14},{"s":"POLI","t":19.35,"v":25.14},{"s":"POLI","t":19.57,"v":24.97},{"s":"POLI","t":19.9,"v":24.94},{"s":"POLI","t":20.2,"v":24.8},{"s":"POLI","t":20.65,"v":24.7},{"s":"POLI","t":20.86,"v":24.55},{"s":"POLI","t":21.2,"v":24.4},{"s":"POLI","t":21.5,"v":24.45},{"s":"POLI","t":21.73,"v":24.36},{"s":"POLI","t":22.16,"v":24.3},{"s":"POLI","t":22.6,"v":24.17},{"s":"POLI","t":23.03,"v":24.1},{"s":"POLI","t":23.46,"v":23.9},{"s":"POLI","t":23.7,"v":23.85},{"s":"POLI","t":24,"v":23.85},
{"s":"MÉDIA","t":0,"v":26.45},{"s":"MÉDIA","t":0.25,"v":26.45},{"s":"MÉDIA","t":0.5,"v":26.4},{"s":"MÉDIA","t":0.75,"v":26.35},{"s":"MÉDIA","t":1,"v":26.3},{"s":"MÉDIA","t":1.25,"v":26.25},{"s":"MÉDIA","t":1.5,"v":26.2},{"s":"MÉDIA","t":1.75,"v":26.1},{"s":"MÉDIA","t":2,"v":26.1},{"s":"MÉDIA","t":2.25,"v":26.05},{"s":"MÉDIA","t":2.5,"v":25.95},{"s":"MÉDIA","t":2.75,"v":25.9},{"s":"MÉDIA","t":3,"v":25.9},{"s":"MÉDIA","t":3.25,"v":25.8},{"s":"MÉDIA","t":3.5,"v":25.75},{"s":"MÉDIA","t":3.75,"v":25.6},{"s":"MÉDIA","t":4,"v":25.5},{"s":"MÉDIA","t":4.25,"v":25.45},{"s":"MÉDIA","t":4.5,"v":25.35},{"s":"MÉDIA","t":4.75,"v":25.25},{"s":"MÉDIA","t":5,"v":25.2},{"s":"MÉDIA","t":5.25,"v":25.1},{"s":"MÉDIA","t":5.5,"v":25.1},{"s":"MÉDIA","t":5.75,"v":25.1},{"s":"MÉDIA","t":6,"v":25.1},{"s":"MÉDIA","t":6.25,"v":25.35},{"s":"MÉDIA","t":6.5,"v":25.85},{"s":"MÉDIA","t":6.75,"v":26.5},{"s":"MÉDIA","t":7,"v":27.2},{"s":"MÉDIA","t":7.25,"v":27.9},{"s":"MÉDIA","t":7.5,"v":28.5},{"s":"MÉDIA","t":7.75,"v":29.2},{"s":"MÉDIA","t":8,"v":29.85},{"s":"MÉDIA","t":8.25,"v":30.4},{"s":"MÉDIA","t":8.5,"v":30.85},{"s":"MÉDIA","t":8.75,"v":31.2},{"s":"MÉDIA","t":9,"v":31.5},{"s":"MÉDIA","t":9.25,"v":31.75},{"s":"MÉDIA","t":9.5,"v":31.95},{"s":"MÉDIA","t":9.75,"v":32.1},{"s":"MÉDIA","t":10.0,"v":32.2},{"s":"MÉDIA","t":10.26,"v":32.4},{"s":"MÉDIA","t":10.58,"v":32.3},{"s":"MÉDIA","t":10.75,"v":32.15},{"s":"MÉDIA","t":10.85,"v":31.96},{"s":"MÉDIA","t":10.9,"v":31.2},{"s":"MÉDIA","t":10.96,"v":30.0},{"s":"MÉDIA","t":11.0,"v":29.4},{"s":"MÉDIA","t":11.07,"v":29.0},{"s":"MÉDIA","t":11.23,"v":28.6},{"s":"MÉDIA","t":11.34,"v":28.3},{"s":"MÉDIA","t":11.4,"v":27.7},{"s":"MÉDIA","t":11.5,"v":27.2},{"s":"MÉDIA","t":11.6,"v":26.5},{"s":"MÉDIA","t":11.72,"v":25.9},{"s":"MÉDIA","t":11.83,"v":25.5},{"s":"MÉDIA","t":11.94,"v":25.1},{"s":"MÉDIA","t":12.04,"v":25.0},{"s":"MÉDIA","t":12.15,"v":25.2},{"s":"MÉDIA","t":12.3,"v":25.24},{"s":"MÉDIA","t":12.42,"v":24.72},{"s":"MÉDIA","t":12.53,"v":24.5},{"s":"MÉDIA","t":12.64,"v":24.78},{"s":"MÉDIA","t":12.75,"v":25.1},{"s":"MÉDIA","t":12.91,"v":25.56},{"s":"MÉDIA","t":13.07,"v":25.8},{"s":"MÉDIA","t":13.23,"v":25.9},{"s":"MÉDIA","t":13.4,"v":25.78},{"s":"MÉDIA","t":13.56,"v":25.5},{"s":"MÉDIA","t":13.72,"v":25.6},{"s":"MÉDIA","t":13.9,"v":25.55},{"s":"MÉDIA","t":14.05,"v":25.46},{"s":"MÉDIA","t":14.26,"v":25.07},{"s":"MÉDIA","t":14.48,"v":24.6},{"s":"MÉDIA","t":14.7,"v":24.6},{"s":"MÉDIA","t":14.91,"v":24.88},{"s":"MÉDIA","t":15.13,"v":25.07},{"s":"MÉDIA","t":15.34,"v":25.2},{"s":"MÉDIA","t":15.56,"v":25.27},{"s":"MÉDIA","t":15.67,"v":25.4},{"s":"MÉDIA","t":15.9,"v":25.33},{"s":"MÉDIA","t":16.1,"v":25.2},{"s":"MÉDIA","t":16.32,"v":25.14},{"s":"MÉDIA","t":16.55,"v":25.14},{"s":"MÉDIA","t":16.75,"v":25.07},{"s":"MÉDIA","t":16.97,"v":25.07},{"s":"MÉDIA","t":17.18,"v":24.88},{"s":"MÉDIA","t":17.4,"v":24.75},{"s":"MÉDIA","t":17.6,"v":24.6},{"s":"MÉDIA","t":17.83,"v":24.43},{"s":"MÉDIA","t":18.05,"v":24.3},{"s":"MÉDIA","t":18.27,"v":24.23},{"s":"MÉDIA","t":18.5,"v":24.3},{"s":"MÉDIA","t":18.7,"v":24.3},{"s":"MÉDIA","t":18.9,"v":24.3},{"s":"MÉDIA","t":19.13,"v":24.17},{"s":"MÉDIA","t":19.35,"v":24.1},{"s":"MÉDIA","t":19.6,"v":24.05},{"s":"MÉDIA","t":20.0,"v":23.97},{"s":"MÉDIA","t":20.43,"v":23.9},{"s":"MÉDIA","t":20.76,"v":23.65},{"s":"MÉDIA","t":21.0,"v":23.7},{"s":"MÉDIA","t":21.3,"v":23.65},{"s":"MÉDIA","t":21.6,"v":23.6},{"s":"MÉDIA","t":21.95,"v":23.46},{"s":"MÉDIA","t":22.38,"v":23.42},{"s":"MÉDIA","t":22.8,"v":23.4},{"s":"MÉDIA","t":23.24,"v":23.33},{"s":"MÉDIA","t":23.68,"v":23.2},{"s":"MÉDIA","t":24,"v":23.07}
]},
"layer":[
{"mark":{"type":"line","strokeWidth":1.2,"clip":true},
 "encoding":{
  "x":{"field":"t","type":"quantitative","scale":{"domain":[0,24],"nice":false,"zero":false},
       "axis":{"orient":"bottom","values":[0,2,4,6,8,10,12,14,16,18,20,22,24],"grid":false,"title":"Tempo (hora local)","titleFont":"Liberation Sans","titleFontSize":17,"titleFontWeight":"normal","titleColor":"black","titlePadding":2,"labelFont":"Liberation Sans","labelFontSize":15,"labelColor":"black","labelPadding":9,"tickSize":-6,"tickColor":"#777","domainColor":"#777","labelFlush":false}},
  "y":{"field":"v","type":"quantitative","scale":{"domain":[20,36],"nice":false,"zero":false},
       "axis":{"orient":"left","values":[20,22,24,26,28,30,32,34,36],"grid":false,"title":"Temperatura (ºC)","titleFont":"Liberation Sans","titleFontSize":17,"titleFontWeight":"normal","titleColor":"black","titlePadding":4,"labelFont":"Liberation Sans","labelFontSize":15,"labelColor":"black","labelPadding":10,"tickSize":-6,"tickColor":"#777","domainColor":"#777","labelFlush":false}},
  "color":{"field":"s","type":"nominal",
    "scale":{"domain":["CALD","CMM","EMB","EST","IFAM","MAN","MUSA","POLI","MÉDIA"],"range":["#0000FF","#008000","#FF0000","#00FFFF","#FFFF00","#FF00FF","#6B7DA6","#2BEA7A","#000000"]},
    "legend":{"orient":"none","legendX":54,"legendY":7,"direction":"horizontal","columns":9,"title":null,"symbolType":"stroke","symbolSize":529,"symbolStrokeWidth":1.2,"labelFont":"Liberation Sans","labelFontSize":15,"labelColor":"black","labelOffset":3,"columnPadding":2,"padding":2,"strokeColor":"#777","fillColor":"white","cornerRadius":0}},
  "strokeDash":{"field":"s","type":"nominal",
    "scale":{"domain":["CALD","CMM","EMB","EST","IFAM","MAN","MUSA","POLI","MÉDIA"],"range":[[1,0],[1,0],[1,0],[1,0],[1,0],[1,0],[1,0],[1,0],[6,4]]},
    "legend":{"orient":"none","legendX":54,"legendY":7,"direction":"horizontal","columns":9,"title":null,"symbolType":"stroke","symbolSize":529,"symbolStrokeWidth":1.2,"labelFont":"Liberation Sans","labelFontSize":15,"labelColor":"black","labelOffset":3,"columnPadding":2,"padding":2,"strokeColor":"#777","fillColor":"white","cornerRadius":0}}
 }},
{"mark":{"type":"point","opacity":0},
 "encoding":{
  "x":{"field":"t","type":"quantitative","axis":{"orient":"top","values":[0,2,4,6,8,10,12,14,16,18,20,22,24],"grid":false,"title":null,"labels":false,"tickSize":-6,"tickColor":"#777","domainColor":"#777"}},
  "y":{"field":"v","type":"quantitative","axis":{"orient":"right","values":[20,22,24,26,28,30,32,34,36],"grid":false,"title":null,"labels":false,"tickSize":-6,"tickColor":"#777","domainColor":"#777"}}
 }}
],
"resolve":{"axis":{"x":"independent","y":"independent"}}
}
